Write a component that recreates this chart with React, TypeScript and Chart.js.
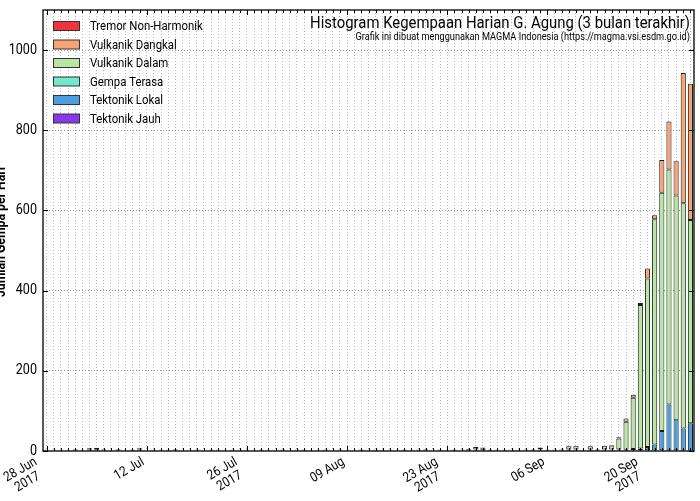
import React, { useEffect, useRef } from "react";
import { Chart, registerables } from "chart.js";

Chart.register(...registerables);

// ---------- data ----------
const START_DATE = [2017, 5, 28]; // 28 Jun 2017
const N_DAYS = 91; // 28 Jun .. 26 Sep 2017

const SERIES_NAMES = [
  "Tremor Non-Harmonik",
  "Vulkanik Dangkal",
  "Vulkanik Dalam",
  "Gempa Terasa",
  "Tektonik Lokal",
  "Tektonik Jauh",
];
const SERIES_COLORS = ["#f2333d", "#f6a474", "#b6e6a2", "#72e8cc", "#4a9fe0", "#8a36ec"];

const tremorNonHarmonik = [
  0,0,0,0,0,0,0,0,0,0, 0,0,0,0,0,0,0,0,0,0, 0,0,0,0,0,0,0,0,0,0,
  0,0,0,0,0,0,0,0,0,0, 0,0,0,0,0,0,0,0,0,0, 0,0,0,0,0,0,0,0,0,0,
  0,0,0,0,0,0,0,0,0,0, 0,0,0,0,0,0,0,0,0,0, 0,0,0,0,0,0,0,0,0,0, 0,
];
const vulkanikDangkal = [
  0,0,0,0,0,0,0,0,0,0, 0,0,0,0,0,0,0,0,0,0, 0,0,0,0,0,0,0,0,0,0,
  0,0,0,0,0,0,0,0,0,0, 0,0,0,0,0,0,0,0,0,0, 0,0,0,0,0,0,0,0,0,0,
  0,0,0,0,0,0,0,0,0,0, 0,0,0,1,0,0,1,0,0,1,
  3,8,7,5,25,10,82,120,86,325,340,
];
const vulkanikDalam = [
  0,0,0,0,1,0,2,3,1,0, 1,0,0,2,0,0,0,0,1,0, 0,0,0,0,0,0,0,0,0,0,
  0,0,0,0,0,0,0,0,0,0, 0,0,0,0,0,0,0,0,0,0, 0,0,0,1,0,0,0,1,0,2,
  6,7,0,1,0,0,1,0,2,5, 1,0,2,8,9,1,8,2,9,10,
  27,70,128,358,420,562,594,586,560,562,507,
];
const gempaTerasa = [
  0,0,0,0,0,0,0,0,0,0, 0,0,0,0,0,0,0,0,0,0, 0,0,0,0,0,0,0,0,0,0,
  0,0,0,0,0,0,0,0,0,0, 0,0,0,0,0,0,0,0,0,0, 0,0,0,0,0,0,0,0,0,0,
  0,0,0,0,0,0,0,0,0,0, 0,0,0,0,0,0,0,0,0,0, 0,0,0,0,0,0,0,0,0,0, 0,
];
const tektonikLokal = [
  0,1,0,0,1,0,1,2,1,0, 1,0,1,2,0,0,1,0,1,0, 0,1,0,0,1,0,0,1,0,0,
  1,0,0,1,0,0,1,0,0,1, 0,1,0,0,1,0,0,1,0,0, 1,0,0,1,0,1,0,0,1,0,
  1,0,1,0,0,1,0,1,0,1, 0,1,0,1,1,0,1,0,1,1,
  2,2,3,5,8,15,48,115,75,55,68,
];
const tektonikJauh = [
  3,2,3,2,3,2,4,3,3,2, 3,2,3,4,2,3,2,3,3,2, 2,3,2,3,2,2,3,2,3,2,
  3,2,2,3,2,3,3,2,2,3, 2,3,2,2,3,2,3,2,3,2, 3,2,3,3,2,3,2,3,2,3,
  3,2,3,2,3,2,2,3,2,3, 2,3,2,3,3,2,3,2,3,3,
  2,1,2,1,2,1,2,1,2,1,1,
];

// x tick labels by day index
const X_TICK_INDEX = [0, 14, 28, 42, 56, 70, 84];
const X_TICK_TEXT: string[][] = [
  ["28 Jun", "2017"],
  ["12 Jul"],
  ["26 Jul", "2017"],
  ["09 Aug"],
  ["23 Aug", "2017"],
  ["06 Sep"],
  ["20 Sep", "2017"],
];
const Y_TICKS = [0, 200, 400, 600, 800, 1000];
const Y_MAX = 1100;

const TITLE = "Histogram Kegempaan Harian G. Agung (3 bulan terakhir)";
const SUBTITLE = "Grafik ini dibuat menggunakan MAGMA Indonesia (https://magma.vsi.esdm.go.id)";
const Y_TITLE = "Jumlah Gempa per Hari";

const FONT = "Roboto, 'DejaVu Sans', sans-serif";
const CONDENSE = 0.875;

function buildDays(): string[] {
  const out: string[] = [];
  const d = new Date(START_DATE[0], START_DATE[1], START_DATE[2]);
  for (let i = 0; i < N_DAYS; i++) {
    out.push(`${d.getFullYear()}-${d.getMonth() + 1}-${d.getDate()}`);
    d.setDate(d.getDate() + 1);
  }
  return out;
}

function condensedText(ctx: any, text: string, x: number, y: number, align: string, sx = CONDENSE) {
  ctx.save();
  ctx.translate(x, y);
  ctx.scale(sx, 1);
  ctx.textAlign = align;
  ctx.fillText(text, 0, 0);
  ctx.restore();
}

export default function App() {
  const ref = useRef<HTMLCanvasElement | null>(null);

  useEffect(() => {
    if (!ref.current) return;
    const days = buildDays();
    const seriesData = [
      tektonikJauh,
      tektonikLokal,
      gempaTerasa,
      vulkanikDalam,
      vulkanikDangkal,
      tremorNonHarmonik,
    ];
    const seriesIdx = [5, 4, 3, 2, 1, 0];
    const datasets = seriesData.map((arr, k) => ({
      label: SERIES_NAMES[seriesIdx[k]],
      data: arr.map((v) => (v === 0 ? null : v)),
      backgroundColor: SERIES_COLORS[seriesIdx[k]],
      borderColor: "#1c1c1c",
      borderWidth: 1,
      borderSkipped: false as const,
      barPercentage: 0.72,
      categoryPercentage: 1,
    }));

    const overlay = {
      id: "overlay",
      afterDraw(chart: any) {
        const { ctx, chartArea } = chart;
        const { left, right, top, bottom } = chartArea;
        const xs = chart.scales.x;
        const ys = chart.scales.y;
        ctx.save();
        // frame
        ctx.strokeStyle = "#000";
        ctx.lineWidth = 1.3;
        ctx.strokeRect(left, top, right - left, bottom - top);
        // inward ticks
        ctx.lineWidth = 1;
        ctx.beginPath();
        for (let i = 0; i < N_DAYS; i++) {
          const x = Math.round(xs.getPixelForValue(i)) + 0.5;
          const len = X_TICK_INDEX.includes(i) ? 5 : 3;
          ctx.moveTo(x, top);
          ctx.lineTo(x, top + len);
          ctx.moveTo(x, bottom);
          ctx.lineTo(x, bottom - len);
        }
        for (const v of Y_TICKS) {
          const y = Math.round(ys.getPixelForValue(v)) + 0.5;
          ctx.moveTo(left, y);
          ctx.lineTo(left + 5, y);
          ctx.moveTo(right, y);
          ctx.lineTo(right - 5, y);
        }
        ctx.stroke();

        ctx.fillStyle = "#000";
        // y tick labels
        ctx.font = `14px ${FONT}`;
        ctx.textBaseline = "middle";
        for (const v of Y_TICKS) {
          condensedText(ctx, String(v), left - 6, ys.getPixelForValue(v), "right", 0.9);
        }
        // x tick labels (rotated 30°, right/top anchored like matplotlib)
        ctx.font = `13.5px ${FONT}`;
        const ang = (30 * Math.PI) / 180;
        const lh = 14;
        for (let k = 0; k < X_TICK_INDEX.length; k++) {
          const lines = X_TICK_TEXT[k];
          const tx = xs.getPixelForValue(X_TICK_INDEX[k]);
          const H = lines.length * lh;
          const Wraw = Math.max(...lines.map((l) => ctx.measureText(l).width));
          ctx.save();
          ctx.translate(tx, bottom + 4 + H * Math.cos(ang));
          ctx.rotate(-ang);
          ctx.scale(CONDENSE, 1);
          ctx.textAlign = "center";
          ctx.textBaseline = "middle";
          lines.forEach((l, j) => {
            ctx.fillText(l, -Wraw / 2, -H + (j + 0.5) * lh);
          });
          ctx.restore();
        }

        // title
        ctx.textBaseline = "alphabetic";
        ctx.font = `17px ${FONT}`;
        condensedText(ctx, TITLE, right - 4, top + 18, "right");
        ctx.font = `10.5px ${FONT}`;
        condensedText(ctx, SUBTITLE, right - 4, top + 30, "right");

        // legend
        ctx.textBaseline = "middle";
        ctx.font = `13px ${FONT}`;
        for (let i = 0; i < SERIES_NAMES.length; i++) {
          const cy = top + 16 + i * 18.5;
          ctx.fillStyle = SERIES_COLORS[i];
          ctx.fillRect(left + 10, cy - 4.5, 27, 9);
          ctx.strokeStyle = "#333";
          ctx.lineWidth = 1;
          ctx.strokeRect(left + 10.5, cy - 4.5, 26, 9);
          ctx.fillStyle = "#000";
          condensedText(ctx, SERIES_NAMES[i], left + 47, cy + 1, "left");
        }

        // y title (partly outside the canvas, as in the original)
        ctx.save();
        ctx.translate(1, 232);
        ctx.rotate(-Math.PI / 2);
        ctx.scale(CONDENSE, 1);
        ctx.textAlign = "center";
        ctx.textBaseline = "middle";
        ctx.font = `bold 14px ${FONT}`;
        ctx.fillText(Y_TITLE, 0, 0);
        ctx.restore();
        ctx.restore();
      },
    };

    const chart = new Chart(ref.current, {
      type: "bar",
      data: { labels: days, datasets: datasets as any },
      options: {
        animation: false,
        responsive: true,
        maintainAspectRatio: false,
        layout: { padding: { top: 10, right: 6, left: 0, bottom: 0 } },
        plugins: {
          legend: { display: false },
          tooltip: { enabled: false },
          title: { display: false },
        },
        scales: {
          x: {
            stacked: true,
            offset: true,
            afterFit: (s: any) => {
              s.height = 50;
            },
            grid: {
              offset: false,
              drawTicks: false,
              color: "#b8b8b8",
              lineWidth: 1,
            },
            border: { display: false, dash: [1, 2] },
            ticks: { display: false, autoSkip: false },
          },
          y: {
            stacked: true,
            min: 0,
            max: Y_MAX,
            afterFit: (s: any) => {
              s.width = 43;
            },
            grid: {
              drawTicks: false,
              color: (c: any) =>
                c.tick && c.tick.value % 200 === 0 && c.tick.value > 0 && c.tick.value < Y_MAX
                  ? "#9a9a9a"
                  : "rgba(0,0,0,0)",
              lineWidth: 1,
            },
            border: { display: false, dash: [1, 2] },
            ticks: { display: false, stepSize: 200 },
          },
        },
      },
      plugins: [overlay],
    });
    return () => chart.destroy();
  }, []);

  return (
    <div style={{ position: "absolute", left: 0, top: 0, width: 700, height: 501, background: "#fff" }}>
      <canvas ref={ref} />
    </div>
  );
}
